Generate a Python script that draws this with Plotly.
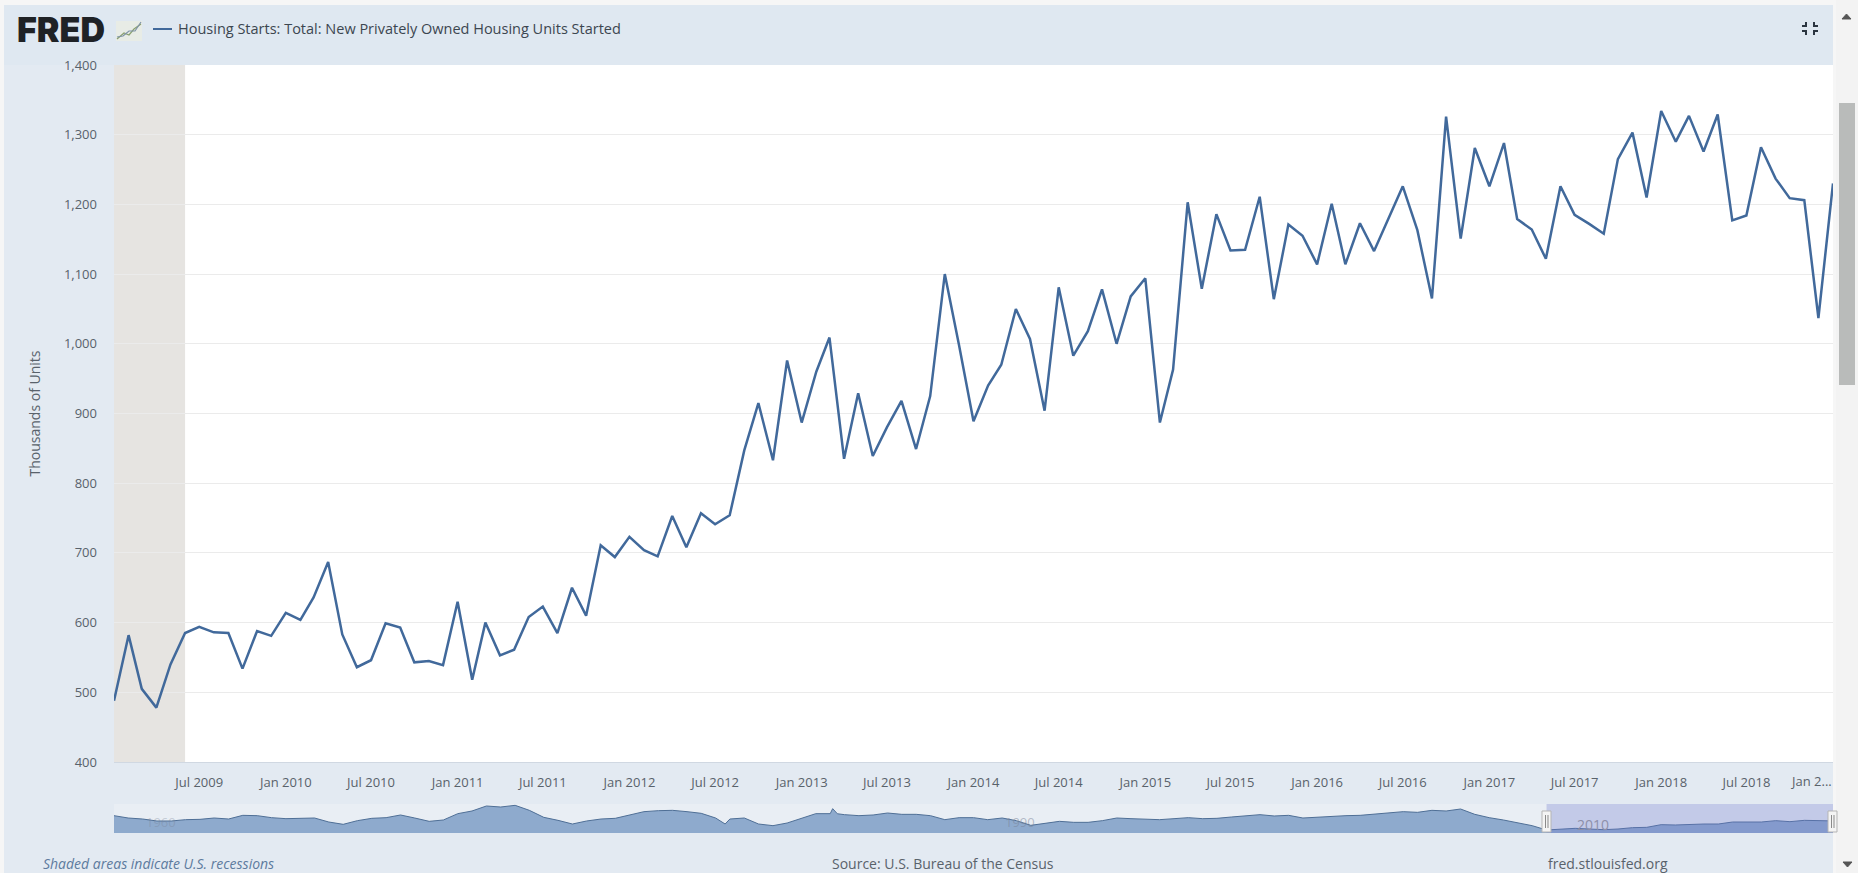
import plotly.graph_objects as go

W, H = 1858, 873

# ---------- main series (thousands of units, monthly, Jan 2009 - Jan 2019) ----------
start_values = [
    488, 582, 505, 478, 540, 585, 594, 586, 585, 534, 588, 581,
    614, 604, 636, 687, 583, 536, 546, 599, 593, 543, 545, 539,
    630, 518, 600, 553, 561, 608, 623, 585, 650, 610, 711, 694,
    723, 704, 695, 753, 708, 757, 741, 754, 847, 915, 833, 976,
    887, 960, 1009, 835, 929, 839, 880, 918, 849, 925, 1100, 999,
    889, 940, 970, 1050, 1007, 904, 1081, 983, 1018, 1078, 1000, 1068,
    1094, 887, 963, 1203, 1079, 1186, 1134, 1135, 1211, 1064, 1171, 1155,
    1114, 1201, 1114, 1173, 1133, 1180, 1226, 1163, 1065, 1326, 1151, 1281,
    1226, 1288, 1179, 1164, 1122, 1226, 1185, 1172, 1158, 1265, 1303, 1210,
    1334, 1290, 1327, 1276, 1329, 1177, 1184, 1282, 1237, 1209, 1206, 1037,
    1230,
]
start_months = [f"{2009 + i // 12}-{i % 12 + 1:02d}-01" for i in range(len(start_values))]

# ---------- navigator overview series (half-yearly reading, plus visible spikes) ----------
overview_years = [
    "1959-01", "1959-07", "1960-01", "1960-07", "1961-01", "1961-07", "1962-01", "1962-07",
    "1963-01", "1963-07", "1964-01", "1964-07", "1965-01", "1965-07", "1966-01", "1966-07",
    "1967-01", "1967-07", "1968-01", "1968-07", "1969-01", "1969-07", "1970-01", "1970-07",
    "1971-01", "1971-07", "1972-01", "1972-07", "1973-01", "1973-07", "1974-01", "1974-07",
    "1975-01", "1975-07", "1976-01", "1976-07", "1977-01", "1977-07", "1978-01", "1978-07",
    "1979-01", "1979-07", "1980-01", "1980-05", "1980-07", "1981-01", "1981-07", "1982-01",
    "1982-07", "1983-01", "1983-07", "1984-01", "1984-02", "1984-04", "1984-07", "1985-01",
    "1985-07", "1986-01", "1986-07", "1987-01", "1987-07", "1988-01", "1988-07", "1989-01",
    "1989-07", "1990-01", "1990-07", "1991-01", "1991-07", "1992-01", "1992-07", "1993-01",
    "1993-07", "1994-01", "1994-07", "1995-01", "1995-07", "1996-01", "1996-07", "1997-01",
    "1997-07", "1998-01", "1998-07", "1999-01", "1999-07", "2000-01", "2000-07", "2001-01",
    "2001-07", "2002-01", "2002-07", "2003-01", "2003-07", "2004-01", "2004-07", "2005-01",
    "2005-07", "2006-01", "2006-07", "2007-01", "2007-07", "2008-01", "2008-07", "2009-01",
    "2009-07", "2010-01", "2010-07", "2011-01", "2011-07", "2012-01", "2012-07", "2013-01",
    "2013-07", "2014-01", "2014-07", "2015-01", "2015-07", "2016-01", "2016-07", "2017-01",
    "2017-07", "2018-01", "2018-07", "2019-01",
]
overview_values = [
    1648, 1462, 1382, 1223, 1223, 1329, 1356, 1462,
    1382, 1675, 1648, 1489, 1409, 1409, 1462, 1143,
    957, 1249, 1436, 1489, 1702, 1462, 1196, 1303,
    1808, 2021, 2420, 2340, 2473, 2074, 1515, 1276,
    983, 1223, 1382, 1436, 1728, 1968, 2047, 2074,
    1968, 1835, 1462, 983, 1382, 1462, 983, 850,
    1063, 1462, 1808, 1808, 2207, 1800, 1728, 1648,
    1702, 1861, 1755, 1755, 1648, 1329, 1489, 1489,
    1329, 1462, 1249, 877, 1063, 1196, 1116, 1116,
    1249, 1462, 1409, 1382, 1329, 1409, 1489, 1409,
    1436, 1542, 1622, 1728, 1622, 1675, 1462, 1542,
    1622, 1648, 1675, 1755, 1861, 1968, 1914, 2074,
    2021, 2180, 1755, 1489, 1303, 1063, 850, 505,
    584, 638, 584, 531, 584, 691, 717, 930,
    904, 957, 983, 983, 1143, 1143, 1143, 1249,
    1170, 1276, 1223, 1230,
]

# ---------- text / labels ----------
series_name = "Housing Starts: Total: New Privately Owned Housing Units Started"
y_title = "Thousands of Units"
y_ticks = [400, 500, 600, 700, 800, 900, 1000, 1100, 1200, 1300, 1400]
x_tick_dates = ["2009-07-01", "2010-01-01", "2010-07-01", "2011-01-01", "2011-07-01", "2012-01-01",
                "2012-07-01", "2013-01-01", "2013-07-01", "2014-01-01", "2014-07-01", "2015-01-01",
                "2015-07-01", "2016-01-01", "2016-07-01", "2017-01-01", "2017-07-01", "2018-01-01",
                "2018-07-01"]
x_tick_labels = ["Jul 2009", "Jan 2010", "Jul 2010", "Jan 2011", "Jul 2011", "Jan 2012",
                 "Jul 2012", "Jan 2013", "Jul 2013", "Jan 2014", "Jul 2014", "Jan 2015",
                 "Jul 2015", "Jan 2016", "Jul 2016", "Jan 2017", "Jul 2017", "Jan 2018",
                 "Jul 2018"]

FONT = "Open Sans"
GREY = "#59626b"
LINE = "#41699b"
PANEL = "#e3eaf2"


def px(x):
    return x / W


def py(y):
    return 1 - y / H


def rect(x0, y0, x1, y1, color, layer="below", line=None):
    return dict(type="rect", xref="paper", yref="paper", x0=px(x0), x1=px(x1), y0=py(y1), y1=py(y0),
                fillcolor=color, line=line or dict(width=0), layer=layer)


def poly(points, color, width=1.5, closed=False, fill=None):
    d = "M" + " L".join(f"{px(a):.5f},{py(b):.5f}" for a, b in points) + (" Z" if closed else "")
    return dict(type="path", xref="paper", yref="paper", path=d, layer="above",
                line=dict(color=color, width=width), fillcolor=fill)


def text(x, y, s, size=14, color=GREY, anchor="center", family=FONT, weight=None):
    f = dict(family=family, size=size, color=color)
    if weight:
        f["weight"] = weight
    return dict(xref="paper", yref="paper", x=px(x), y=py(y), text=s, showarrow=False,
                xanchor=anchor, yanchor="middle", font=f)


fig = go.Figure()
fig.add_trace(go.Scatter(x=start_months, y=start_values, mode="lines", name=series_name,
                         line=dict(color=LINE, width=2.5), xaxis="x", yaxis="y", showlegend=False))
fig.add_trace(go.Scatter(x=overview_years, y=overview_values, mode="lines", name="Navigator",
                         line=dict(color="#4f6f96", width=1), fill="tozeroy", fillcolor="#8eaacd",
                         xaxis="x2", yaxis="y2", showlegend=False, hoverinfo="skip"))

shapes = [
    rect(0, 0, W, H, "#f6f6f6"),
    rect(4, 5, 1833, H, PANEL),
    rect(4, 5, 1833, 65, "#dfe8f1"),
    rect(114, 804, 1833, 833, "#e9eef4"),
    rect(114, 65, 1833, 762, "#ffffff"),
    # recession band, under the line and over the grid
    dict(type="rect", xref="x", yref="paper", x0="2009-01-01", x1="2009-06-01",
         y0=py(762), y1=py(65), fillcolor="#e6e4e1", line=dict(width=0), layer="between"),
    # legend line
    poly([(153, 29), (172, 29)], LINE, 2),
    # logo sparkline
    rect(116, 21, 142, 41, "#e8ece6"),
    poly([(117, 39), (124, 33), (129, 35), (134, 29), (141, 24)], "#8aa06f", 1.2),
    poly([(117, 37), (123, 36), (129, 31), (135, 31), (141, 22)], "#7f93a8", 1.2),
    # fullscreen icon
    poly([(1806, 22), (1806, 26), (1802, 26)], "#2b3540", 2),
    poly([(1814, 22), (1814, 26), (1818, 26)], "#2b3540", 2),
    poly([(1806, 35), (1806, 31), (1802, 31)], "#2b3540", 2),
    poly([(1814, 35), (1814, 31), (1818, 31)], "#2b3540", 2),
    # scrollbar
    rect(1836, 0, W, H, "#f3f3f3"),
    rect(1839, 103, 1855, 385, "#b9bbba"),
    poly([(1842, 19), (1851, 19), (1846.5, 14)], "#555555", 1, True, "#555555"),
    poly([(1843, 862), (1852, 862), (1847.5, 867)], "#555555", 1, True, "#555555"),
    # navigator selection
    dict(type="rect", xref="x2", yref="paper", x0="2009-01-01", x1="2019-01-01",
         y0=py(833), y1=py(804), fillcolor="rgba(110,120,205,0.30)", line=dict(width=0), layer="above"),
    # navigator handles
    rect(1542, 811, 1551, 832, "#f4f4f4", "above", dict(color="#b5b5b5", width=1)),
    rect(1828, 811, 1837, 832, "#f4f4f4", "above", dict(color="#b5b5b5", width=1)),
    poly([(1545.5, 815), (1545.5, 828)], "#8a8a8a", 1),
    poly([(1548, 815), (1548, 828)], "#8a8a8a", 1),
    poly([(1831.5, 815), (1831.5, 828)], "#8a8a8a", 1),
    poly([(1834, 815), (1834, 828)], "#8a8a8a", 1),
]

annotations = [
    text(15, 30, "FRED", size=34, color="#1f2226", anchor="left", family="Inter", weight=900),
    text(176, 29, series_name, size=14.5, color="#3c4650", anchor="left"),
    text(1811, 781, "Jan 2...", size=13),
    text(41, 863, "<i>Shaded areas indicate U.S. recessions</i>", size=14, color="#5d7b9e", anchor="left"),
    text(943, 863, "Source: U.S. Bureau of the Census", size=14),
    text(1608, 863, "fred.stlouisfed.org", size=14),
    text(1593, 824, "2010", size=14, color="#8d8fa8"),
    text(161, 822, "1960", size=13, color="rgba(120,130,150,0.35)"),
    text(1020, 822, "1990", size=13, color="rgba(120,130,150,0.5)"),
]

fig.update_layout(
    width=W, height=H,
    margin=dict(l=0, r=0, t=0, b=0, pad=0, autoexpand=False),
    paper_bgcolor="#f6f6f6",
    plot_bgcolor="rgba(0,0,0,0)",
    font=dict(family=FONT, size=13, color=GREY),
    showlegend=False,
    hovermode="x",
    shapes=shapes,
    annotations=annotations,
    xaxis=dict(
        domain=[px(114), px(1833)], anchor="y", type="date", automargin=False,
        range=["2009-01-01", "2019-01-01"],
        tickmode="array", tickvals=x_tick_dates, ticktext=x_tick_labels,
        showgrid=False, ticks="", ticklabelstandoff=8,
        showline=True, linecolor="#d0d8e2", linewidth=1,
        tickfont=dict(family=FONT, size=13, color=GREY), zeroline=False,
    ),
    yaxis=dict(
        domain=[py(762), py(65)], anchor="x", automargin=False,
        range=[400, 1400], tickmode="array", tickvals=y_ticks, tickformat=",",
        showgrid=True, gridcolor="#ebebeb", gridwidth=1, zeroline=False,
        ticks="", ticklabelstandoff=16,
        tickfont=dict(family=FONT, size=13, color=GREY),
        title=dict(text=y_title, standoff=19, font=dict(family=FONT, size=14, color=GREY)),
    ),
    xaxis2=dict(
        domain=[px(114), px(1833)], anchor="y2", type="date", automargin=False,
        range=["1959-01-01", "2019-01-01"],
        showgrid=False, showticklabels=False, ticks="", zeroline=False, showline=False,
    ),
    yaxis2=dict(
        domain=[py(833), py(804)], anchor="x2", automargin=False,
        range=[265, 2579], showgrid=False, showticklabels=False, ticks="", zeroline=False, showline=False,
    ),
)

fig.write_html("out.html", config=dict(displayModeBar=False),
               post_script="document.body.style.margin='0';document.body.style.overflow='hidden';")
